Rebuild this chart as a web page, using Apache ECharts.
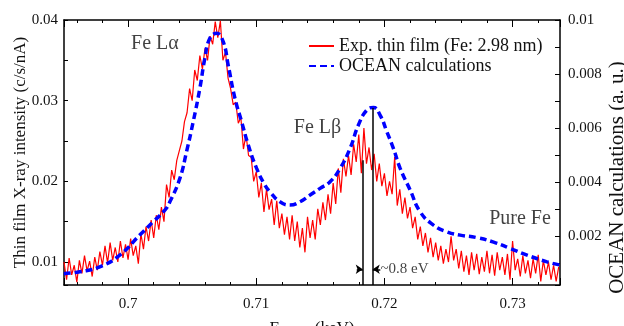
<!DOCTYPE html>
<html><head><meta charset="utf-8">
<script src="https://cdn.jsdelivr.net/npm/echarts@6/dist/echarts.min.js"></script>
<style>html,body{margin:0;padding:0;background:#fff}#c{width:624px;height:326px}</style>
</head><body><div id="c"></div>
<script>
// ---- data ----
const expStartEnergy = 0.695;   // keV, first sample of the experimental scan
const expEnergyStep = 0.0002;   // keV, sampling step of the experimental scan
const expIntensity = [
0.0100,0.0078,0.0105,0.0084,0.0096,0.0075,0.0102,0.0086,0.0108,0.0089,0.0101,0.0082,0.0106,0.0090,
0.0113,0.0096,0.0120,0.0099,0.0124,0.0102,0.0118,0.0100,0.0126,0.0105,0.0122,0.0103,0.0129,0.0108,
0.0120,0.0098,0.0135,0.0116,0.0144,0.0126,0.0152,0.0130,0.0158,0.0140,0.0168,0.0150,
0.0196,0.0180,0.0214,0.0202,0.0226,0.0238,0.0250,0.0274,0.0285,0.0315,0.0300,0.0338,0.0325,0.0356,
0.0339,0.0365,0.0350,0.0380,0.0370,0.0398,0.0378,0.0399,0.0350,0.0360,0.0328,0.0315,0.0295,0.0298,
0.0272,0.0279,0.0240,0.0258,0.0232,0.0230,0.0200,0.0212,0.0180,0.0198,0.0162,0.0190,0.0165,0.0178,
0.0146,0.0176,0.0142,0.0160,0.0134,0.0156,0.0128,0.0158,0.0126,0.0150,0.0118,0.0142,0.0112,0.0156,
0.0130,0.0152,0.0128,0.0166,0.0146,0.0174,0.0152,0.0184,0.0160,0.0198,0.0172,0.0216,0.0186,0.0228,
0.0206,0.0232,0.0208,0.0246,0.0224,0.0258,0.0210,0.0266,0.0222,0.0242,0.0214,0.0234,0.0200,0.0222,
0.0194,0.0210,0.0182,0.0200,0.0184,0.0230,0.0170,0.0190,0.0160,0.0180,0.0154,0.0168,0.0142,0.0156,
0.0128,0.0144,0.0120,0.0136,0.0112,0.0130,0.0106,0.0124,0.0102,0.0120,0.0098,0.0116,0.0100,0.0132,
0.0102,0.0116,0.0092,0.0114,0.0088,0.0108,0.0084,0.0112,0.0090,0.0110,0.0085,0.0106,0.0088,0.0114,
0.0086,0.0109,0.0083,0.0112,0.0090,0.0106,0.0084,0.0110,0.0078,0.0126,0.0090,0.0104,0.0082,0.0108,
0.0086,0.0102,0.0080,0.0104,0.0086,0.0109,0.0076,0.0102,0.0084,0.0100,0.0078,0.0096,0.0076,0.0094
];
const oceanEnergy = [0.69498,0.69623,0.69779,0.69935,0.70091,0.70195,0.70287,0.70326,0.70404,0.70456,0.70508,0.70560,0.70599,0.70638,0.70691,0.70742,0.70781,0.70834,0.70886,0.70938,0.71003,0.71068,0.71107,0.71185,0.71263,0.71341,0.71420,0.71498,0.71576,0.71654,0.71732,0.71797,0.71863,0.71914,0.71966,0.72019,0.72070,0.72123,0.72201,0.72279,0.72383,0.72488,0.72591,0.72722,0.72852,0.72982,0.73113,0.73269,0.73373];
const oceanValue = [0.000611,0.000678,0.000863,0.001296,0.002037,0.002530,0.002963,0.003270,0.004137,0.005122,0.006233,0.007470,0.008581,0.009322,0.009507,0.009196,0.008333,0.007100,0.006233,0.005370,0.004507,0.003889,0.003641,0.003270,0.003148,0.003270,0.003519,0.003767,0.004011,0.004507,0.005248,0.006111,0.006667,0.006759,0.006481,0.005863,0.005248,0.004507,0.003704,0.002900,0.002407,0.002159,0.002037,0.001944,0.001778,0.001544,0.001296,0.001048,0.000926];
const xTickLabels = [0.70, 0.71, 0.72, 0.73];
const leftTickLabels = [0.01, 0.02, 0.03, 0.04];
const rightTickLabels = [0.002, 0.004, 0.006, 0.008, 0.01];
const expPeakEnergy = 0.71831;    // Lβ maximum of the thin film
const expPeakIntensity = 0.0226;
const oceanPeakEnergy = 0.71909;  // Lβ maximum of the calculation
const oceanPeakIntensity = 0.0291;
const annotationTexts = ['Fe Lα', 'Fe Lβ', 'Pure Fe'];
const annotationEnergy = [0.70209, 0.71478, 0.73058];
const annotationIntensity = [0.0370, 0.0266, 0.0154];
const shiftText = '~0.8 eV';
const shiftArrowIntensity = 0.0091;

// ---- chart ----
const X_MIN = 0.695, X_MAX = 0.7337;
const YL_MIN = 0.00715, YL_MAX = 0.04;
const YR_MIN = 0.00019, YR_MAX = 0.01;
const FONT = 'Liberation Serif';
const near = (v, list) => list.some(t => Math.abs(t - v) < 1e-9);
const fmt = v => String(parseFloat(v.toFixed(5)));

const expData = expIntensity.map((y, i) => [expStartEnergy + i * expEnergyStep, y]);
const oceanData = oceanEnergy.map((x, i) => [x, oceanValue[i]]);
const annData = annotationTexts.map((t, i) => ({ value: [annotationEnergy[i], annotationIntensity[i], t] }));
annData.push({ value: [oceanPeakEnergy + 0.0006, shiftArrowIntensity, shiftText],
  label: { position: 'right', distance: 0, fontSize: 15 } });

function xAxisCfg(pos, showLabel) {
  return {
    type: 'value', position: pos, min: X_MIN, max: X_MAX, splitNumber: 4,
    axisLine: { show: true, onZero: false, lineStyle: { color: '#000', width: 1.5 } },
    axisTick: { show: true, inside: true, length: 7, lineStyle: { color: '#000', width: 1 } },
    minorTick: { show: true, splitNumber: 5, length: 3, lineStyle: { color: '#000', width: 1 } },
    splitLine: { show: false },
    axisLabel: { show: showLabel, fontFamily: FONT, fontSize: 15, color: '#111', margin: 12,
      formatter: v => near(v, xTickLabels) ? fmt(v) : '' },
    name: showLabel ? '{e|E}{s|photon}{e| (keV)}' : '',
    nameLocation: 'middle', nameGap: 34, nameMoveOverlap: false,
    nameTextStyle: { fontFamily: FONT, color: '#111',
      rich: { e: { fontFamily: FONT, fontSize: 17, color: '#111' },
              s: { fontFamily: FONT, fontSize: 11, color: '#111', padding: [8, 0, 0, 0] } } }
  };
}

const option = {
  animation: false,
  backgroundColor: '#fff',
  grid: { left: 64, right: 64, top: 20, bottom: 41, containLabel: false, outerBoundsMode: 'none' },
  legend: {
    orient: 'vertical', left: 303, top: 32, itemWidth: 25, itemHeight: 14, itemGap: 2,
    data: ['Exp. thin film (Fe: 2.98 nm)', 'OCEAN calculations'],
    itemStyle: { opacity: 0 },
    lineStyle: { width: 2 },
    textStyle: { fontFamily: FONT, fontSize: 18, color: '#111' }
  },
  xAxis: [xAxisCfg('bottom', true), xAxisCfg('top', false)],
  yAxis: [
    { type: 'value', position: 'left', min: YL_MIN, max: YL_MAX, splitNumber: 3,
      axisLine: { show: true, onZero: false, lineStyle: { color: '#000', width: 1.5 } },
      axisTick: { show: true, inside: true, length: 4, lineStyle: { color: '#000' } },
      minorTick: { show: true, splitNumber: 2, length: 4, lineStyle: { color: '#000' } },
      splitLine: { show: false },
      axisLabel: { fontFamily: FONT, fontSize: 15, color: '#111', margin: 6,
        formatter: v => near(v, leftTickLabels) ? fmt(v) : '' },
      name: 'Thin film X-ray intensity (c/s/nA)', nameLocation: 'middle', nameGap: 35,
      nameMoveOverlap: false,
      nameTextStyle: { fontFamily: FONT, fontSize: 17, color: '#111' } },
    { type: 'value', position: 'right', min: YR_MIN, max: YR_MAX, splitNumber: 5,
      axisLine: { show: true, onZero: false, lineStyle: { color: '#000', width: 1.5 } },
      axisTick: { show: true, inside: true, length: 5, lineStyle: { color: '#000' } },
      minorTick: { show: true, splitNumber: 2, length: 5, lineStyle: { color: '#000' } },
      splitLine: { show: false },
      axisLabel: { fontFamily: FONT, fontSize: 15, color: '#111', margin: 8,
        formatter: v => near(v, rightTickLabels) ? fmt(v) : '' },
      name: 'OCEAN calculations (a. u.)', nameLocation: 'middle', nameGap: 47,
      nameMoveOverlap: false,
      nameTextStyle: { fontFamily: FONT, fontSize: 21, color: '#111', padding: [0, 50, 0, 0] } }
  ],
  series: [
    { name: 'Exp. thin film (Fe: 2.98 nm)', type: 'line', xAxisIndex: 0, yAxisIndex: 0,
      data: expData, showSymbol: false, symbol: 'none', color: '#ff0000',
      lineStyle: { color: '#ff0000', width: 1.2 }, z: 2,
      markLine: {
        silent: true, animation: false, label: { show: false },
        lineStyle: { color: '#000', width: 1.5, type: 'solid' },
        symbol: ['none', 'none'],
        data: [
          [{ coord: [expPeakEnergy, YL_MIN] }, { coord: [expPeakEnergy, expPeakIntensity] }],
          [{ coord: [oceanPeakEnergy, YL_MIN] }, { coord: [oceanPeakEnergy, oceanPeakIntensity] }],
          [{ coord: [expPeakEnergy - 0.00047, shiftArrowIntensity], symbol: 'none' },
           { coord: [expPeakEnergy, shiftArrowIntensity], symbol: 'arrow', symbolSize: 7 }],
          [{ coord: [oceanPeakEnergy + 0.00059, shiftArrowIntensity], symbol: 'none' },
           { coord: [oceanPeakEnergy, shiftArrowIntensity], symbol: 'arrow', symbolSize: 7 }]
        ]
      } },
    { name: 'OCEAN calculations', type: 'line', xAxisIndex: 0, yAxisIndex: 1,
      data: oceanData, showSymbol: false, symbol: 'none', smooth: true, color: '#0000ff',
      lineStyle: { color: '#0000ff', width: 3.5, type: [7, 4] }, z: 3 },
    { name: 'annotations', type: 'scatter', xAxisIndex: 0, yAxisIndex: 0, silent: true,
      data: annData, symbolSize: 0, itemStyle: { color: 'transparent' }, z: 4,
      label: { show: true, position: 'inside', formatter: p => p.value[2],
        fontFamily: FONT, fontSize: 20, color: '#111' } }
  ]
};

const chart = echarts.init(document.getElementById('c'), null, { renderer: 'canvas' });
chart.setOption(option);
</script></body></html>
